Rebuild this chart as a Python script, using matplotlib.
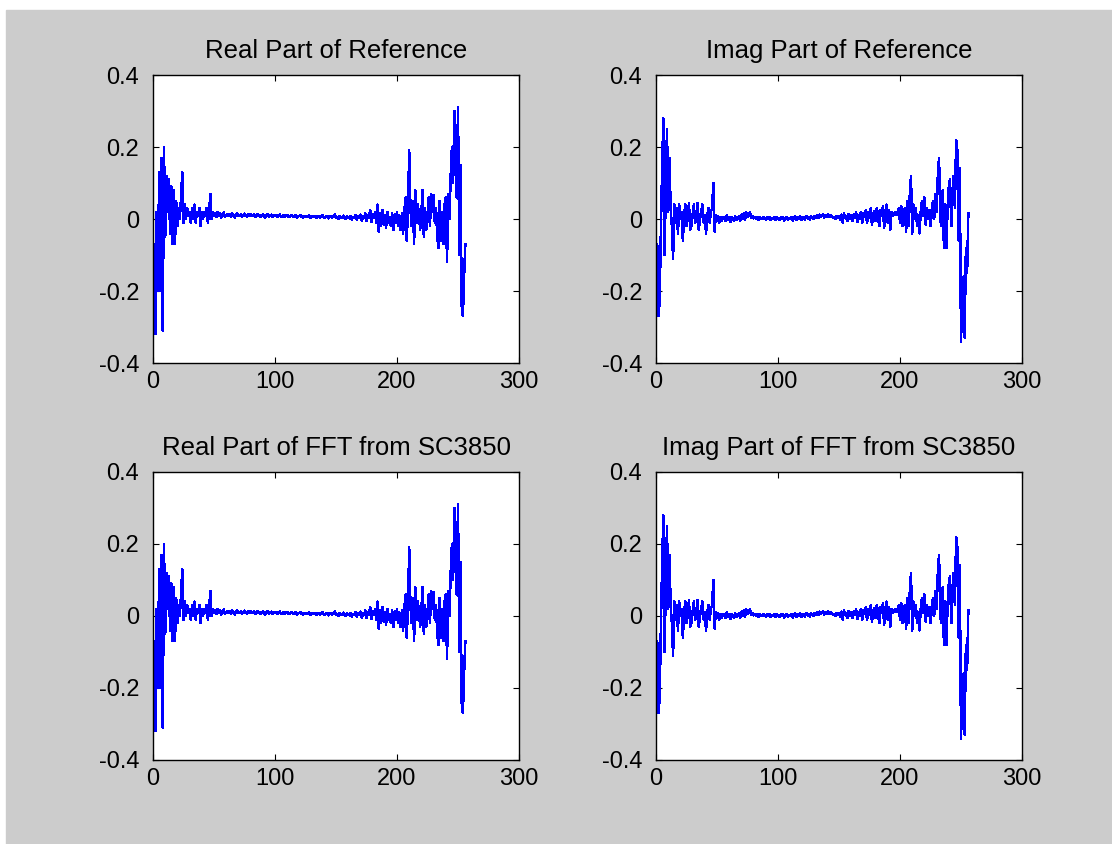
import numpy as np
import matplotlib
matplotlib.use('Agg')
import matplotlib.pyplot as plt
from matplotlib.patches import Rectangle

# values (256 FFT bins)
real_part = [
    -0.07, -0.32, 0.02, -0.20, 0.13, -0.20, 0.17, -0.31, 0.20, -0.05,
    0.12, 0.02, 0.11, -0.04, 0.09, -0.07, 0.08, -0.07, 0.05, -0.02,
    0.03, 0.00, 0.06, 0.13, -0.01, 0.04, 0.00, 0.03, 0.01, 0.02,
    -0.01, 0.03, 0.00, 0.04, -0.01, 0.02, 0.01, 0.03, -0.02, 0.02,
    0.00, 0.02, 0.01, 0.03, -0.01, 0.02, 0.07, 0.00, 0.02, 0.01,
    0.015, 0.005, 0.02, 0.008, 0.016, 0.004, 0.012, 0.018, 0.006, 0.01,
    0.014, 0.008, 0.012, 0.006, 0.015, 0.01, 0.004, 0.012, 0.016, 0.008,
    0.01, 0.013, 0.006, 0.011, 0.015, 0.009, 0.007, 0.012, 0.01, 0.014,
    0.008, 0.011, 0.013, 0.006, 0.01, 0.014, 0.009, 0.005, 0.011, 0.012,
    0.008, 0.004, 0.01, 0.013, 0.007, 0.009, 0.012, 0.006, 0.01, 0.008,
    0.011, 0.007, 0.009, 0.012, 0.005, 0.008, 0.01, 0.006, 0.009, 0.011,
    0.007, 0.005, 0.009, 0.01, 0.006, 0.008, 0.011, 0.004, 0.007, 0.009,
    0.01, 0.006, 0.003, 0.008, 0.009, 0.005, 0.007, 0.01, 0.004, 0.006,
    0.008, 0.005, 0.009, 0.003, 0.006, 0.008, 0.004, 0.007, 0.01, 0.005,
    0.003, 0.008, 0.006, 0.002, 0.009, 0.005, 0.004, 0.007, 0.012, 0.003,
    0.006, 0.001, 0.008, 0.005, 0.003, 0.009, 0.004, 0.0, 0.007, 0.005,
    0.002, 0.008, -0.002, 0.006, 0.004, 0.01, -0.001, 0.007, 0.003, 0.012,
    -0.004, 0.009, 0.002, 0.015, -0.006, 0.01, 0.004, 0.025, -0.008, 0.012,
    0.003, 0.02, -0.01, 0.04, -0.035, 0.015, -0.02, 0.025, -0.015, 0.01,
    -0.025, 0.02, -0.01, 0.005, -0.02, 0.015, -0.03, 0.012, -0.01, 0.02,
    -0.02, 0.01, -0.03, 0.015, -0.04, 0.02, 0.06, -0.06, 0.03, 0.19,
    0.03, -0.02, 0.05, -0.07, 0.08, -0.01, 0.04, 0.01, -0.03, 0.02,
    0.08, -0.05, 0.03, -0.03, 0.01, 0.06, -0.02, 0.07, 0.02, 0.065,
    -0.01, 0.03, -0.05, -0.08, 0.05, -0.06, 0.02, -0.07, 0.04, 0.06,
    -0.12, 0.07, 0.0, 0.12, 0.2, 0.1, 0.30, 0.15, 0.06, 0.31,
    -0.1, 0.15, -0.24, -0.27, -0.16, -0.07,
]

imag_part = [
    -0.07, -0.27, -0.23, -0.03, 0.14, 0.28, -0.10, 0.08, 0.25, 0.02,
    0.17, 0.03, -0.02, -0.11, 0.04, -0.01, 0.03, -0.04, 0.04, 0.0,
    0.02, -0.06, 0.01, 0.04, -0.02, 0.0, 0.045, -0.03, -0.02, 0.01,
    0.04, -0.01, 0.0, 0.045, -0.03, 0.0, 0.02, 0.04, -0.01, 0.01,
    -0.04, 0.01, 0.03, -0.01, 0.02, 0.03, 0.1, -0.035, 0.01, -0.005,
    0.008, -0.01, 0.005, -0.004, 0.006, 0.003, -0.006, 0.01, -0.002, 0.004,
    -0.008, 0.006, 0.0, -0.005, 0.007, -0.003, 0.002, 0.008, -0.004, 0.012,
    0.0, 0.015, -0.002, 0.018, 0.005, 0.01, 0.02, 0.004, 0.008, 0.002,
    0.006, 0.0, 0.004, -0.002, 0.005, 0.003, 0.0, 0.006, 0.002, -0.002,
    0.004, 0.001, 0.005, -0.003, 0.003, 0.0, 0.004, -0.002, 0.006, 0.001,
    -0.003, 0.004, 0.0, 0.006, -0.004, 0.002, 0.005, -0.002, 0.003, 0.0,
    0.006, -0.004, 0.003, 0.007, -0.002, 0.005, 0.0, 0.008, -0.003, 0.004,
    0.006, -0.001, 0.009, 0.002, 0.004, -0.002, 0.007, 0.003, 0.0, 0.008,
    0.004, 0.01, 0.002, 0.012, 0.006, 0.009, 0.014, 0.004, 0.011, 0.007,
    0.013, 0.005, 0.01, 0.008, 0.003, 0.006, 0.0, 0.009, 0.004, 0.007,
    -0.002, 0.012, -0.01, 0.015, 0.002, 0.008, -0.005, 0.014, 0.0, 0.01,
    -0.006, 0.012, 0.003, 0.018, -0.008, 0.01, 0.0, 0.02, -0.01, 0.015,
    0.005, 0.025, -0.012, 0.02, 0.002, 0.03, -0.015, 0.012, 0.022, -0.005,
    0.03, 0.008, -0.02, 0.025, 0.01, 0.035, -0.025, 0.018, 0.04, -0.01,
    0.025, -0.03, 0.02, 0.008, 0.015, 0.02, 0.012, 0.015, 0.03, -0.01,
    0.035, -0.02, 0.01, 0.03, -0.035, 0.05, -0.02, 0.065, 0.12, -0.04,
    0.04, 0.0, 0.03, -0.02, 0.01, -0.04, 0.02, 0.05, 0.01, 0.06,
    -0.015, 0.03, 0.0, 0.025, -0.02, 0.015, 0.05, 0.0, 0.07, 0.02,
    0.12, 0.17, 0.0, -0.02, 0.08, -0.08, 0.04, -0.08, 0.03, 0.09,
    0.11, -0.02, 0.05, 0.12, 0.03, 0.22, 0.19, -0.06, 0.14, -0.34,
    -0.21, -0.16, -0.33, -0.08, -0.15, 0.015,
]

titles = ['Real Part of Reference', 'Imag Part of Reference',
          'Real Part of FFT from SC3850', 'Imag Part of FFT from SC3850']
series = [real_part, imag_part, real_part, imag_part]
xticks = [0, 100, 200, 300]
yticks = [-0.4, -0.2, 0, 0.2, 0.4]
ytick_labels = ['-0.4', '-0.2', '0', '0.2', '0.4']

plt.rcParams['font.family'] = ['Liberation Sans', 'DejaVu Sans']
plt.rcParams['axes.unicode_minus'] = False

W, H = 1112, 844
fig = plt.figure(figsize=(W / 100, H / 100), dpi=100, facecolor='white')
# grey MATLAB-style window background
fig.patches.append(Rectangle((6 / W, 0), 1 - 6 / W, (H - 10) / H,
                             transform=fig.transFigure, color='#cccccc', zorder=-1))

# axes boxes in pixels: left, top
boxes = [(153, 75), (656, 75), (153, 472), (656, 472)]
aw, ah = 366, 288

for (left, top), title, data in zip(boxes, titles, series):
    ax = fig.add_axes([left / W, (H - top - ah) / H, aw / W, ah / H])
    x = np.arange(1, len(data) + 1)
    ax.plot(x, data, color='blue', linewidth=1.1, antialiased=False)
    ax.set_xlim(0, 300)
    ax.set_ylim(-0.4, 0.4)
    ax.set_xticks(xticks)
    ax.set_yticks(yticks)
    ax.set_yticklabels(ytick_labels)
    ax.tick_params(direction='in', top=True, right=True, length=4, width=0.8,
                   labelsize=17)
    ax.tick_params(axis='y', pad=10)
    ax.tick_params(axis='x', pad=6)
    for s in ax.spines.values():
        s.set_linewidth(1.0)
    ax.set_title(title, fontsize=18.5, pad=12)

fig.savefig('out.png', dpi=100, facecolor=fig.get_facecolor())
